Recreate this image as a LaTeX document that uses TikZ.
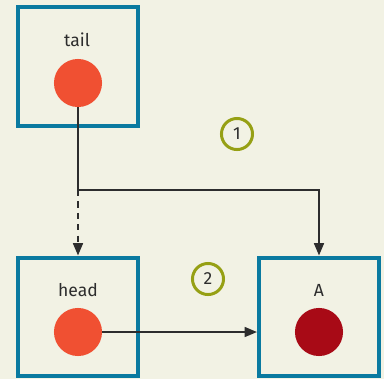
\documentclass[tikz,border=0pt]{standalone}
\usepackage{fontspec}
\setmainfont{Fira Sans}
\usetikzlibrary{arrows.meta}

\definecolor{paper}{RGB}{242,242,228}
\definecolor{boxblue}{RGB}{10,122,160}
\definecolor{ptrred}{RGB}{240,80,50}
\definecolor{objred}{RGB}{168,10,22}
\definecolor{stepolive}{RGB}{150,160,20}
\definecolor{ink}{RGB}{45,45,45}

\begin{document}
\begin{tikzpicture}[x=0.57pt,y=-0.57pt,
  var/.style={draw=boxblue,line width=2.3pt,inner sep=0pt,
    minimum width=68.4pt,minimum height=67.8pt},
  dot/.style={circle,inner sep=0pt,minimum size=27.4pt},
  stepno/.style={circle,draw=stepolive,line width=1.7pt,inner sep=0pt,
    minimum size=17.7pt,text=ink},
  link/.style={ink,line width=1.1pt,-{Triangle[length=7pt,width=5.6pt]}}]
\fill[paper] (0,0) rectangle (384,379);
% boxes
\node[var] (tailbox) at (78,66.5) {};
\node[var] (headbox) at (78,317) {};
\node[var] (abox) at (319,317) {};
% names
\node[text=ink] (tailname) at (77,40) {tail};
\node[text=ink] (headname) at (78,290) {head};
\node[text=ink] (aname) at (319,290) {A};
% values
\node[dot,fill=ptrred] (tail) at (78,83) {};
\node[dot,fill=ptrred] (head) at (78,332) {};
\node[dot,fill=objred] (a) at (319,332) {};
% steps
\node[stepno] (s1) at (237,134) {1};
\node[stepno] (s2) at (208,279) {2};
% pointers
\coordinate (bend) at (78,190);
\draw[ink,line width=1.1pt] (tail.south) -- (bend);
\draw[link] (bend) -| (abox.north);
\draw[link,dash pattern=on 3.5pt off 3pt] (bend) -- (headbox.north);
\draw[link] (head.east) -- (head.east -| abox.west);
\end{tikzpicture}
\end{document}
